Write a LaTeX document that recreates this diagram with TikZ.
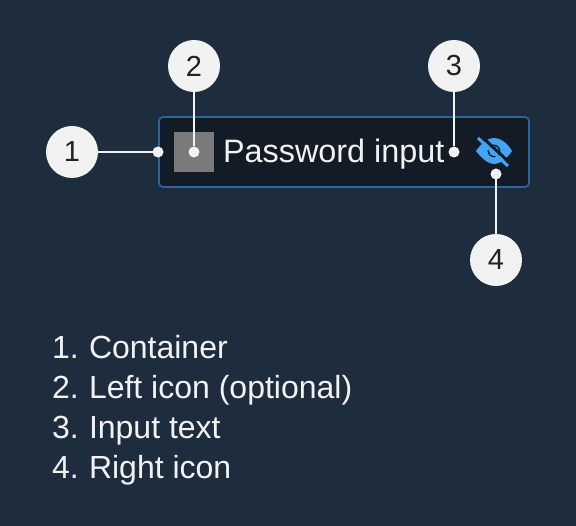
\documentclass[tikz,border=0pt]{standalone}
\usepackage{fontspec}
\setmainfont{Liberation Sans}
\definecolor{bgcol}{HTML}{1E2D3D}
\definecolor{boxcol}{HTML}{121B26}
\definecolor{edgecol}{HTML}{2F659E}
\definecolor{eyecol}{HTML}{42A5F5}
\definecolor{inkcol}{HTML}{F2F2F2}
\definecolor{numcol}{HTML}{222222}
\definecolor{iconcol}{HTML}{7A7A7A}
\begin{document}
\begin{tikzpicture}[x=1pt, y=-1pt, line width=2pt,
	callout/.style = {circle, fill=inkcol, minimum size=52pt, inner sep=0pt, outer sep=0pt, text=numcol, font=\fontsize{29}{29}\selectfont},
	dot/.style = {circle, fill=inkcol, minimum size=11pt, inner sep=0pt, outer sep=0pt},
	listline/.style = {anchor=base west, inner sep=0pt, text=inkcol, font=\fontsize{32}{32}\selectfont},
	lead/.style = {draw=inkcol}]
		\fill[bgcol] (0,0) rectangle (576,526);
		\node (box) [draw=edgecol, line width=1.6pt, fill=boxcol, rounded corners=4pt, minimum width=370pt, minimum height=70pt, inner sep=0pt] at (344,152) {};
		\node (icon) [fill=iconcol, minimum size=40pt, inner sep=0pt] at (194,152) {};
		\node (text) [listline, font=\fontsize{32.4}{32.4}\selectfont] at (222,163) {Password input};
		% eye icon
		\fill[eyecol, even odd rule] (476,151) .. controls (483,141) and (489,138) .. (494,138) .. controls (499,138) and (506,141) .. (512,151) .. controls (506,160) and (499,164) .. (494,164) .. controls (489,164) and (483,160) .. (476,151) -- cycle (494,151) circle (6.5);
		\fill[eyecol] (494,151) circle (5);
		\draw[boxcol, line width=3pt] (481,136) -- (511,164);
		\draw[eyecol, line width=3pt] (478,138) -- (508,166);
		% dots and callouts
		\node[dot] (d1) at (158,152) {};
		\node[dot] (d2) at (194,152) {};
		\node[dot] (d3) at (454,152) {};
		\node[dot] (d4) at (496,174) {};
		\node[callout] (1) at (72,152) {1};
		\node[callout] (2) at (194,66) {2};
		\node[callout] (3) at (454,66) {3};
		\node[callout] (4) at (496,260) {4};
		\draw[lead] (1) -- (d1);
		\draw[lead] (2) -- (d2);
		\draw[lead] (3) -- (d3);
		\draw[lead] (4) -- (d4);
		% list
		\node[listline] (n1) at (51,359) {1.};
		\node[listline] (n2) at (51,399) {2.};
		\node[listline] (n3) at (51,439) {3.};
		\node[listline] (n4) at (51,479) {4.};
		\node[listline] (t1) at (88,359) {Container};
		\node[listline] (t2) at (88,399) {Left icon (optional)};
		\node[listline] (t3) at (88,439) {Input text};
		\node[listline] (t4) at (88,479) {Right icon};
	\end{tikzpicture}
\end{document}
